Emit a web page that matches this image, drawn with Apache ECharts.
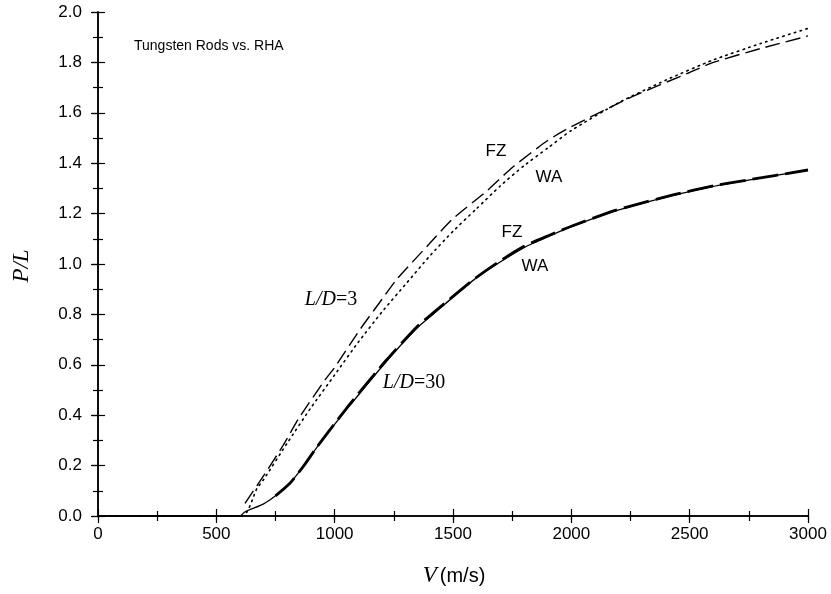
<!DOCTYPE html>
<html><head><meta charset="utf-8">
<script src="https://cdn.jsdelivr.net/npm/echarts@6/dist/echarts.min.js"></script>
<style>html,body{margin:0;padding:0;background:#fff}#c{width:831px;height:594px}</style>
</head><body><div id="c"></div>
<script>
// Velocity (m/s) and P/L values
var fzLD3 = [[621,0.05],[700,0.16],[782,0.28],[850,0.39],[959,0.54],[1000,0.59],[1107,0.74],[1200,0.86],[1263,0.94],[1400,1.08],[1500,1.18],[1643,1.29],[1753,1.385],[1900,1.49],[2000,1.545],[2260,1.665],[2500,1.76],[2600,1.80],[2800,1.855],[3000,1.905]];
var waLD3 = [[0,0],[610,0.0],[672,0.11],[700,0.145],[800,0.29],[900,0.43],[1000,0.56],[1100,0.69],[1200,0.81],[1300,0.92],[1400,1.03],[1500,1.13],[1600,1.22],[1700,1.31],[1800,1.39],[1900,1.46],[2000,1.53],[2200,1.64],[2400,1.73],[2600,1.81],[2800,1.875],[3000,1.935]];
var fzLD30 = [[750,0.08],[811,0.13],[870,0.2],[925,0.274],[1022,0.393],[1065,0.445],[1220,0.62],[1347,0.75],[1415,0.805],[1585,0.937],[1686,1.004],[1800,1.07],[1910,1.115],[2000,1.15],[2163,1.206],[2235,1.226],[2430,1.274],[2600,1.31],[2742,1.333],[3000,1.373]];
var waLD30 = [[0,0],[600,0.0],[620,0.016],[698,0.047],[750,0.08],[811,0.13],[870,0.2],[925,0.272],[1022,0.39],[1065,0.44],[1220,0.615],[1347,0.745],[1415,0.80],[1585,0.935],[1686,1.0],[1800,1.065],[1910,1.112],[2000,1.148],[2163,1.204],[2235,1.224],[2430,1.272],[2600,1.308],[2742,1.332],[3000,1.373]];
var xTicks = [0,500,1000,1500,2000,2500,3000];
var yTicks = [0.0,0.2,0.4,0.6,0.8,1.0,1.2,1.4,1.6,1.8,2.0];

var chart = echarts.init(document.getElementById('c'), null, {renderer:'canvas'});
var sans = '"Liberation Sans", Arial, sans-serif';
var serif = '"Liberation Serif", "Times New Roman", serif';
var xMin = xTicks[0], xMax = xTicks[xTicks.length-1];
var yMin = yTicks[0], yMax = yTicks[yTicks.length-1];
var axisBase = {
  type:'value',
  axisLine:{show:true,lineStyle:{color:'#000',width:1.5}},
  splitLine:{show:false},
  axisTick:{show:true,inside:true,length:7,lineStyle:{color:'#000',width:1.2}},
  minorTick:{show:true,splitNumber:2,length:5,lineStyle:{color:'#000',width:1.2}}
};
var outTicks = {
  type:'value', axisLine:{show:false}, splitLine:{show:false}, axisLabel:{show:false},
  axisTick:{show:true,inside:false,length:6,lineStyle:{color:'#000',width:1.2}}, minorTick:{show:false}
};
function ext(a,b){return Object.assign({},a,b);}
var option = {
  animation:false,
  backgroundColor:'#fff',
  grid:{left:98,right:23,top:12,bottom:78,containLabel:false},
  xAxis:[
    ext(axisBase,{position:'bottom',min:xMin,max:xMax,interval:500,
      axisLabel:{color:'#000',fontFamily:sans,fontSize:17,margin:10,formatter:function(v){return String(v);}}}),
    ext(axisBase,{position:'top',min:xMin,max:xMax,interval:500,axisLabel:{show:false}}),
    ext(outTicks,{position:'bottom',min:xMin,max:xMax,interval:500,axisTick:{show:true,inside:false,length:4,lineStyle:{color:'#000',width:1.2}}})
  ],
  yAxis:[
    ext(axisBase,{position:'left',min:yMin,max:yMax,interval:0.2,
      axisLabel:{color:'#000',fontFamily:sans,fontSize:17,margin:16,formatter:function(v){return v.toFixed(1);}}}),
    ext(axisBase,{position:'right',min:yMin,max:yMax,interval:0.2,axisLabel:{show:false}}),
    ext(outTicks,{position:'left',min:yMin,max:yMax,interval:0.2})
  ],
  series:[
    {type:'line',name:'WA L/D=3',data:waLD3,showSymbol:false,smooth:0.2,lineStyle:{color:'#000',width:1.6,type:[1.5,4.5],cap:'round'}},
    {type:'line',name:'FZ L/D=3',data:fzLD3,showSymbol:false,smooth:0.2,lineStyle:{color:'#000',width:1.4,type:[15,6]}},
    {type:'line',name:'WA L/D=30',data:waLD30,showSymbol:false,smooth:0.2,lineStyle:{color:'#000',width:1.3}},
    {type:'line',name:'FZ L/D=30',data:fzLD30,showSymbol:false,smooth:0.2,lineStyle:{color:'#000',width:2.8,type:[26,7]}}
  ],
  graphic:[
    {type:'text',left:134,top:39,style:{text:'Tungsten Rods vs. RHA',font:'14px '+sans,fill:'#000'}},
    {type:'text',x:496,y:151,style:{text:'FZ',font:'17px '+sans,fill:'#000',align:'center',verticalAlign:'middle'}},
    {type:'text',x:549,y:177,style:{text:'WA',font:'17px '+sans,fill:'#000',align:'center',verticalAlign:'middle'}},
    {type:'text',x:512,y:232,style:{text:'FZ',font:'17px '+sans,fill:'#000',align:'center',verticalAlign:'middle'}},
    {type:'text',x:535,y:266,style:{text:'WA',font:'17px '+sans,fill:'#000',align:'center',verticalAlign:'middle'}},
    {type:'text',x:331,y:300,style:{text:'{i|L/D}{r|=3}',align:'center',verticalAlign:'middle',
      rich:{i:{fontFamily:serif,fontStyle:'italic',fontSize:20,fill:'#000'},r:{fontFamily:serif,fontSize:20,fill:'#000'}}}},
    {type:'text',x:414,y:383,style:{text:'{i|L/D}{r|=30}',align:'center',verticalAlign:'middle',
      rich:{i:{fontFamily:serif,fontStyle:'italic',fontSize:20,fill:'#000'},r:{fontFamily:serif,fontSize:20,fill:'#000'}}}},
    {type:'text',x:454,y:576,style:{text:'{i|V}{s|(m/s)}',align:'center',verticalAlign:'middle',
      rich:{i:{fontFamily:serif,fontStyle:'italic',fontSize:23,fill:'#000',padding:[0,3,0,0]},s:{fontFamily:sans,fontSize:20,fill:'#000'}}}},
    {type:'text',x:22,y:266,rotation:Math.PI/2,style:{text:'P/L',font:'italic 23px '+serif,fill:'#000',align:'center',verticalAlign:'middle'}}
  ]
};
chart.setOption(option);
</script></body></html>
